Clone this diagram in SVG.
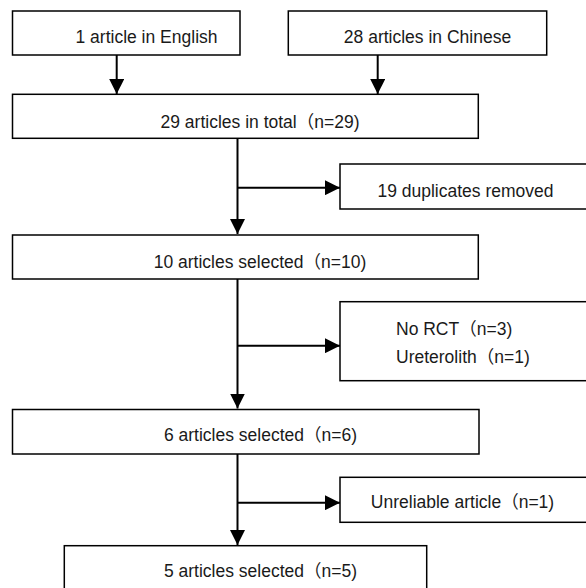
<svg xmlns="http://www.w3.org/2000/svg" width="586" height="588" viewBox="0 0 586 588">
<style>
.box{fill:#fff;stroke:#000;stroke-width:1.5}
.t{font-family:"Liberation Sans","Noto Sans CJK SC",sans-serif;font-size:17.5px;fill:#1a1a1a}
.m{text-anchor:middle}
.c{fill:none;stroke:#000;stroke-width:2}
</style>
<defs>
<marker id="ah" markerUnits="userSpaceOnUse" markerWidth="15" markerHeight="15" refX="15" refY="7.5" orient="auto" viewBox="0 0 15 15">
<path d="M0,0 L15,7.5 L0,15 z" fill="#000"/>
</marker>
</defs>
<rect width="586" height="588" fill="#fff"/>
<g id="connectors">
<line class="c" x1="116.7" y1="55" x2="116.7" y2="94" marker-end="url(#ah)"/>
<line class="c" x1="377.7" y1="55" x2="377.7" y2="94" marker-end="url(#ah)"/>
<line class="c" x1="237.5" y1="138.3" x2="237.5" y2="234" marker-end="url(#ah)"/>
<line class="c" x1="237.5" y1="187.7" x2="340" y2="187.7" marker-end="url(#ah)"/>
<line class="c" x1="237.5" y1="279" x2="237.5" y2="408.5" marker-end="url(#ah)"/>
<line class="c" x1="237.5" y1="345.7" x2="340" y2="345.7" marker-end="url(#ah)"/>
<line class="c" x1="237.5" y1="454" x2="237.5" y2="545" marker-end="url(#ah)"/>
<line class="c" x1="237.5" y1="502.7" x2="340" y2="502.7" marker-end="url(#ah)"/>
</g>
<g id="n1">
<rect class="box" x="12.5" y="11" width="227.5" height="44"/>
<text class="t m" x="146.5" y="42.7">1 article in English</text>
</g>
<g id="n2">
<rect class="box" x="288.3" y="11" width="258.4" height="44"/>
<text class="t m" x="427.5" y="42.7">28 articles in Chinese</text>
</g>
<g id="n3">
<rect class="box" x="12.5" y="94.3" width="465.8" height="44"/>
<text class="t m" x="260" y="127.7">29 articles in total（n=29)</text>
</g>
<g id="n4">
<rect class="box" x="340" y="164" width="250" height="45"/>
<text class="t m" x="465.5" y="197.3">19 duplicates removed</text>
</g>
<g id="n5">
<rect class="box" x="12.5" y="235" width="465.8" height="44"/>
<text class="t m" x="260" y="268">10 articles selected（n=10)</text>
</g>
<g id="n6">
<rect class="box" x="340" y="301.7" width="250" height="79"/>
<text class="t" x="396" y="335">No RCT（n=3)</text>
<text class="t" x="396" y="363.3">Ureterolith（n=1)</text>
</g>
<g id="n7">
<rect class="box" x="12.5" y="409.5" width="466.5" height="44.5"/>
<text class="t m" x="260.5" y="441">6 articles selected（n=6)</text>
</g>
<g id="n8">
<rect class="box" x="340" y="477.3" width="250" height="45"/>
<text class="t m" x="462.5" y="508.3">Unreliable article（n=1)</text>
</g>
<g id="n9">
<rect class="box" x="64.3" y="545.7" width="362.4" height="44"/>
<text class="t m" x="260.5" y="576.7">5 articles selected（n=5)</text>
</g>
</svg>
